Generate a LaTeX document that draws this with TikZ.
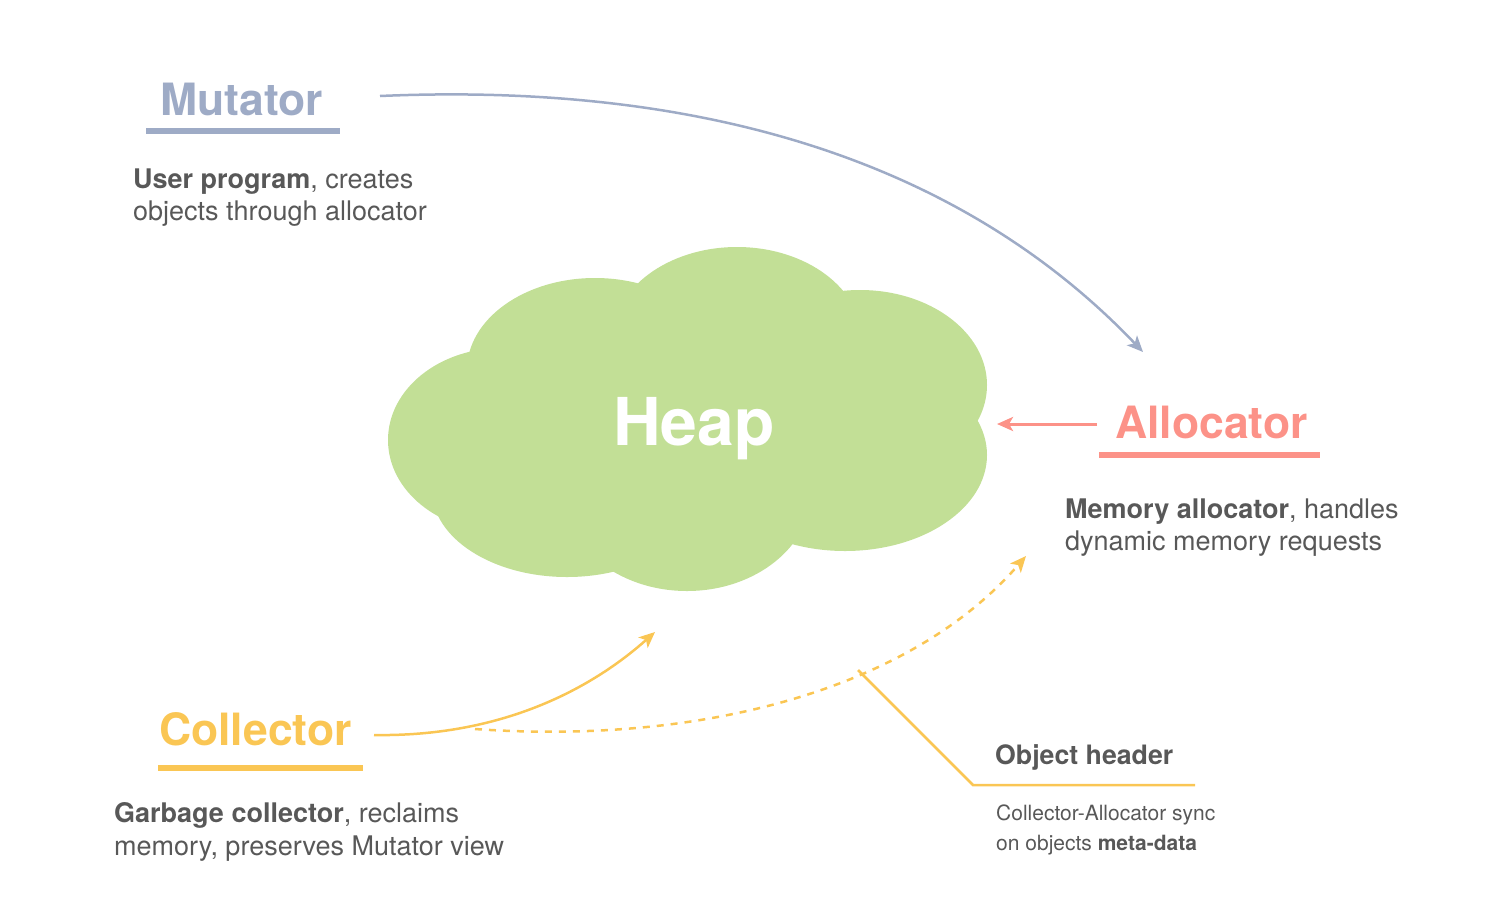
\documentclass[tikz,border=0pt]{standalone}
\usepackage{fontspec}
\setmainfont{TeX Gyre Heros}
\usetikzlibrary{arrows.meta}
\definecolor{mutc}{RGB}{158,171,198}
\definecolor{allc}{RGB}{252,146,136}
\definecolor{colc}{RGB}{250,198,84}
\definecolor{heapc}{RGB}{194,223,150}
\definecolor{txtc}{RGB}{88,88,88}
\tikzset{
  title/.style={anchor=base west,inner sep=0pt,font=\bfseries\fontsize{44.5}{54}\selectfont},
  body/.style={anchor=base west,inner sep=0pt,text=txtc,font=\fontsize{27}{32}\selectfont},
  small/.style={anchor=base west,inner sep=0pt,text=txtc,font=\fontsize{21}{30}\selectfont},
  uline/.style={line width=5.5pt},
  tip/.style={-{Stealth[length=16pt,width=14pt,inset=4pt]}},
  lobe/.style={fill=heapc,draw=none}
}
\begin{document}
\begin{tikzpicture}[x=1pt,y=-1pt]
\useasboundingbox (0,0) rectangle (1500,898);
% heap cloud
\fill[lobe] (737,340) ellipse [x radius=125, y radius=93];
\fill[lobe] (595,370) ellipse [x radius=128, y radius=92];
\fill[lobe] (860,385) ellipse [x radius=127, y radius=95];
\fill[lobe] (845,455) ellipse [x radius=142, y radius=96];
\fill[lobe] (502,440) ellipse [x radius=114, y radius=92];
\fill[lobe] (567,490) ellipse [x radius=135, y radius=87];
\fill[lobe] (687,490) ellipse [x radius=125, y radius=101];
\fill[lobe] (690,425) ellipse [x radius=250, y radius=130];
\node[anchor=base,inner sep=0pt,text=white,font=\bfseries\fontsize{66}{70}\selectfont] (heap) at (694,445) {Heap};
\coordinate (heapin) at (997,424);
\coordinate (heapbot) at (655,632);

% Mutator
\node[title,text=mutc] (mut) at (160,115) {Mutator};
\draw[uline,mutc] (146,131) -- (340,131);
\node[body] (mut1) at (133,188) {\textbf{User program}, creates};
\node[body] (mut2) at (133,220) {objects through allocator};
\coordinate (mutout) at (380,96);

% Allocator
\node[title,text=allc] (all) at (1115,438) {Allocator};
\draw[uline,allc] (1099,455) -- (1320,455);
\node[body] (all1) at (1065,518) {\textbf{Memory allocator}, handles};
\node[body] (all2) at (1065,550) {dynamic memory requests};
\coordinate (allin) at (1143,352);
\coordinate (allout) at (1097,424);
\coordinate (allbot) at (1026,556);

% Collector
\node[title,text=colc] (col) at (159,745) {Collector};
\draw[uline,colc] (158,768) -- (363,768);
\node[body] (col1) at (114,822) {\textbf{Garbage collector}, reclaims};
\node[body] (col2) at (114,855) {memory, preserves Mutator view};
\coordinate (colout) at (374,735);
\coordinate (coldash) at (475,729);

% Object header
\node[anchor=base west,inner sep=0pt,text=txtc,font=\bfseries\fontsize{26.7}{30}\selectfont] (oh) at (995,764) {Object header};
\node[small] (oh1) at (996,820) {Collector-Allocator sync};
\node[small] (oh2) at (996,850) {on objects \textbf{meta-data}};
\coordinate (ohA) at (858,670);
\coordinate (ohB) at (973,785);
\coordinate (ohC) at (1195,785);

% connectors
\draw[mutc,line width=2.5pt,tip] (mutout) .. controls (700,82) and (960,160) .. (allin);
\draw[allc,line width=3pt,tip] (allout) -- (heapin);
\draw[colc,line width=2.5pt,tip] (colout) .. controls (500,737) and (590,690) .. (heapbot);
\draw[colc,line width=2.5pt,dash pattern=on 7pt off 7pt,tip] (coldash) .. controls (700,745) and (910,690) .. (allbot);
\draw[colc,line width=2.5pt] (ohA) -- (ohB) -- (ohC);
\end{tikzpicture}
\end{document}
